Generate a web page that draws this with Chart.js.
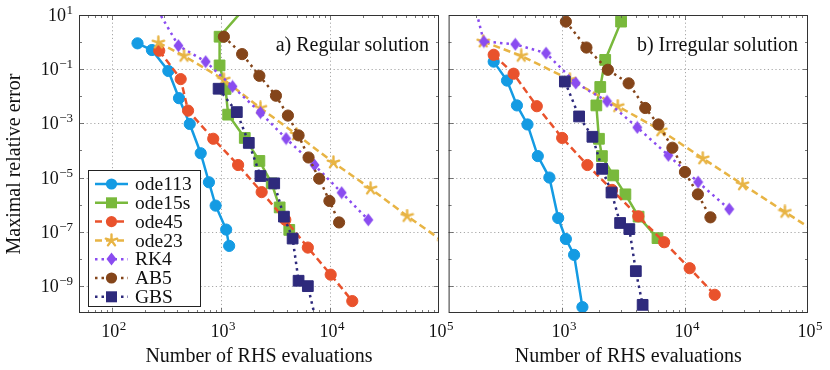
<!DOCTYPE html>
<html>
<head>
<meta charset="utf-8">
<script src="https://cdn.jsdelivr.net/npm/chart.js@4.4.1/dist/chart.umd.min.js"></script>
<style>
  html, body { margin: 0; padding: 0; background: #fff; }
  #wrap { position: relative; width: 830px; height: 370px; overflow: hidden; }
  canvas { position: absolute; top: 0; }
  #cL { left: 0; }
  #cR { left: 440px; }
</style>
</head>
<body>
<div id="wrap">
  <canvas id="cL" width="460" height="370"></canvas>
  <canvas id="cR" width="390" height="370"></canvas>
</div>
<script>
// ---- data: a) regular solution (RHS evaluations, max relative error) ----
const regOde113X = [172, 233, 330, 413, 518, 653, 777, 895, 1118, 1191];
const regOde113Y = [0.90, 0.51, 0.086, 8.5e-3, 9.5e-4, 7.9e-5, 6.7e-6, 9.2e-7, 1.2e-7, 3.0e-8];
const regOde15sX = [2400, 973, 973, 1104, 1166, 1656, 2254, 2923, 3459, 4237];
const regOde15sY = [100, 1.58, 0.138, 0.0186, 2.1e-3, 2.9e-4, 4.1e-5, 6.1e-6, 7.9e-7, 1.17e-7];
const regOde45X = [272, 428, 500, 851, 1439, 2365, 3898, 6270, 10160, 16030];
const regOde45Y = [0.48, 0.043, 2.95e-3, 2.7e-4, 2.9e-5, 2.9e-6, 2.75e-7, 2.6e-8, 2.6e-9, 2.75e-10];
const regOde23X = [267, 459, 1065, 2305, 4943, 10760, 23600, 51000, 111000];
const regOde23Y = [0.96, 0.31, 0.041, 3.7e-3, 3.9e-4, 3.6e-5, 3.9e-6, 3.8e-7, 4.2e-8];
const regRk4X = [200, 408, 725, 1279, 2305, 3960, 7210, 12810, 22480];
const regRk4Y = [100, 0.74, 0.19, 0.023, 2.5e-3, 2.75e-4, 2.9e-5, 2.77e-6, 2.75e-7];
const regAb5X = [1065, 1566, 2254, 3198, 4118, 5157, 6366, 7963, 9890, 12130];
const regAb5Y = [1.58, 0.36, 0.057, 0.0105, 1.94e-3, 3.6e-4, 5.5e-5, 9.1e-6, 1.37e-6, 2.2e-7];
const regGbsX = [953, 1400, 1803, 2305, 3083, 3785, 4547, 5157, 6270, 7700];
const regGbsY = [0.019, 2.6e-3, 1.9e-4, 1.14e-5, 6.1e-6, 3.6e-7, 5.6e-8, 1.55e-9, 9.8e-10, 3e-11];

// ---- data: b) irregular solution ----
const irrOde113X = [279, 358, 431, 525, 637, 791, 933, 1077, 1256, 1468];
const irrOde113Y = [0.19, 0.038, 4.6e-3, 9.1e-4, 6.2e-5, 1.0e-5, 3.2e-7, 5.4e-8, 1.4e-8, 1.65e-10];
const irrOde15sX = [3027, 2249, 2050, 1905, 2000, 2114, 2612, 3281, 4199, 5982];
const irrOde15sY = [5.7, 0.22, 0.022, 4.6e-3, 2.7e-4, 6.2e-5, 1.2e-5, 2.4e-6, 3.6e-7, 5.8e-8];
const irrOde45X = [279, 405, 625, 1005, 1611, 2553, 4178, 6776, 10920, 17460];
const irrOde45Y = [0.34, 0.068, 4.3e-3, 2.9e-4, 2.9e-5, 3.5e-6, 3.7e-7, 4.1e-8, 4.5e-9, 4.7e-10];
const irrOde23X = [229, 467, 1160, 2844, 6366, 13960, 29360, 64900, 142000];
const irrOde23Y = [1.05, 0.31, 0.041, 4.3e-3, 5.5e-4, 5.1e-5, 5.6e-6, 5.4e-7, 5.4e-8];
const irrRk4X = [180, 232, 418, 743, 1297, 2327, 4100, 7330, 12790, 22900];
const irrRk4Y = [100, 1.05, 0.83, 0.39, 0.031, 6.5e-3, 7.1e-4, 6.6e-5, 6.8e-6, 6.8e-7];
const irrAb5X = [1077, 1582, 2362, 3486, 4756, 6089, 7906, 10000, 12740, 16110];
const irrAb5Y = [5.7, 0.63, 0.095, 0.030, 3.7e-3, 9.1e-4, 1.26e-4, 1.6e-5, 2.4e-6, 3.4e-7];
const irrGbsX = [1057, 1380, 1770, 2123, 2530, 2972, 3532, 3989, 4529];
const irrGbsY = [0.035, 1.8e-3, 3.2e-4, 2.1e-5, 2.8e-6, 2.1e-7, 1.25e-7, 3.5e-9, 2.0e-10];

const seriesNames = ['ode113', 'ode15s', 'ode45', 'ode23', 'RK4', 'AB5', 'GBS'];
const xTickExps = [2, 3, 4, 5];
const yTickExps = [1, -1, -3, -5, -7, -9];

// ---- styles ----
const colors = ['#149be3', '#79b93c', '#e9522c', '#e8b444', '#8a4cf0', '#84451a', '#2e2a7c'];
const dashes = [[], [], [7, 4], [7, 4], [2.5, 4], [2.5, 4], [2.5, 4]];
const markers = ['circle', 'rect', 'circle', 'star', 'diamond', 'circle', 'rect'];
const SERIF = '"Liberation Serif", "DejaVu Serif", serif';

function starImg(color) {
  const c = document.createElement('canvas');
  c.width = c.height = 15;
  const g = c.getContext('2d');
  g.strokeStyle = color; g.lineWidth = 2.4; g.lineCap = 'round';
  g.beginPath();
  for (let k = 0; k < 5; k++) {
    const a = -Math.PI / 2 + k * 2 * Math.PI / 5;
    g.moveTo(7.5, 7.5);
    g.lineTo(7.5 + 6 * Math.cos(a), 7.5 + 6 * Math.sin(a));
  }
  g.stroke();
  return c;
}
function diamondImg(color) {
  const c = document.createElement('canvas');
  c.width = 11; c.height = 14;
  const g = c.getContext('2d');
  g.fillStyle = color;
  g.beginPath();
  g.moveTo(5.5, 0.5); g.lineTo(10.5, 7); g.lineTo(5.5, 13.5); g.lineTo(0.5, 7); g.closePath();
  g.fill();
  return c;
}

function pointStyleFor(i) {
  if (markers[i] === 'star') return starImg(colors[i]);
  if (markers[i] === 'diamond') return diamondImg(colors[i]);
  return markers[i];
}

function makeDatasets(xs, ys) {
  return xs.map((xArr, i) => ({
    label: seriesNames[i],
    data: xArr.map((v, j) => ({ x: v, y: ys[i][j] })),
    borderColor: colors[i],
    backgroundColor: colors[i],
    borderWidth: 2.5,
    borderDash: dashes[i],
    borderCapStyle: 'butt',
    pointStyle: pointStyleFor(i),
    pointRadius: markers[i] === 'rect' ? 7.6 : 5.6,
    pointBackgroundColor: colors[i],
    pointBorderColor: colors[i],
    pointBorderWidth: 1,
    tension: 0,
    clip: 0,
    order: 10 - i
  }));
}

function supLabel(ctx, exp, x, y, align) {
  const base = '10';
  const ex = String(exp).replace('-', '\u2212');
  ctx.font = '18px ' + SERIF;
  const wb = ctx.measureText(base).width;
  ctx.font = '13px ' + SERIF;
  const we = ctx.measureText(ex).width;
  const total = wb + we + 0.5;
  let sx = align === 'right' ? x - total : x - total / 2;
  ctx.textAlign = 'left';
  ctx.textBaseline = 'alphabetic';
  ctx.font = '18px ' + SERIF;
  ctx.fillText(base, sx, y);
  ctx.font = '13px ' + SERIF;
  ctx.fillText(ex, sx + wb + 0.5, y - 7);
}

function deco(cfg) {
  return {
    id: 'deco',
    beforeDatasetsDraw(chart) {
      const { ctx, chartArea: a, scales: { x, y } } = chart;
      ctx.save();
      ctx.strokeStyle = '#a8a8a8';
      ctx.lineWidth = 1;
      ctx.setLineDash([1.2, 2.6]);
      xTickExps.forEach(e => {
        const v = Math.pow(10, e);
        if (v <= x.min || v >= x.max) return;
        const px = Math.round(x.getPixelForValue(v)) + 0.5;
        ctx.beginPath(); ctx.moveTo(px, a.top); ctx.lineTo(px, a.bottom); ctx.stroke();
      });
      yTickExps.forEach(e => {
        const v = Math.pow(10, e);
        if (v <= y.min || v >= y.max) return;
        const py = Math.round(y.getPixelForValue(v)) + 0.5;
        ctx.beginPath(); ctx.moveTo(a.left, py); ctx.lineTo(a.right, py); ctx.stroke();
      });
      ctx.restore();
    },
    afterDraw(chart) {
      const { ctx, chartArea: a, scales: { x, y } } = chart;
      ctx.save();
      // tick marks, inside, on all four sides
      ctx.strokeStyle = '#555';
      ctx.lineWidth = 0.8;
      for (let e = 1; e <= 4; e++) {
        for (let m = 1; m <= 9; m++) {
          const v = m * Math.pow(10, e);
          if (v <= x.min || v >= x.max) continue;
          const px = Math.round(x.getPixelForValue(v)) + 0.5;
          const len = m === 1 ? 5 : 3;
          ctx.beginPath();
          ctx.moveTo(px, a.bottom); ctx.lineTo(px, a.bottom - len);
          ctx.moveTo(px, a.top); ctx.lineTo(px, a.top + len);
          ctx.stroke();
        }
      }
      for (let e = 0; e >= -9; e--) {
        const v = Math.pow(10, e);
        const py = Math.round(y.getPixelForValue(v)) + 0.5;
        const len = yTickExps.includes(e) ? 5 : 3;
        ctx.beginPath();
        ctx.moveTo(a.left, py); ctx.lineTo(a.left + len, py);
        ctx.moveTo(a.right, py); ctx.lineTo(a.right - len, py);
        ctx.stroke();
      }
      // frame
      ctx.strokeStyle = '#333';
      ctx.lineWidth = 1;
      ctx.strokeRect(a.left + 0.5, a.top + 0.5, a.right - a.left - 1, a.bottom - a.top - 1);

      ctx.fillStyle = '#111';
      // x tick labels
      xTickExps.forEach(e => {
        const v = Math.pow(10, e);
        if (v < x.min || v > x.max) return;
        supLabel(ctx, e, x.getPixelForValue(v) + 2, 337, 'center');
      });
      // y tick labels
      if (cfg.yLabels) {
        yTickExps.forEach(e => {
          supLabel(ctx, e, 73, y.getPixelForValue(Math.pow(10, e)) + 6, 'right');
        });
        ctx.save();
        ctx.translate(15, (a.top + a.bottom) / 2);
        ctx.rotate(-Math.PI / 2);
        ctx.font = '20px ' + SERIF;
        ctx.textAlign = 'center';
        ctx.textBaseline = 'middle';
        ctx.fillText('Maximal relative error', 0, 0);
        ctx.restore();
      }
      // axis title
      ctx.font = '20px ' + SERIF;
      ctx.textAlign = 'center';
      ctx.textBaseline = 'alphabetic';
      ctx.fillText('Number of RHS evaluations', (a.left + a.right) / 2, 362);
      // panel title
      ctx.textAlign = 'right';
      ctx.fillText(cfg.title, a.right - 10, 51);

      if (cfg.legend) drawLegend(chart);
      ctx.restore();
    }
  };
}

function drawLegend(chart) {
  const ctx = chart.ctx;
  const bx = 88.5, by = 170.5, bw = 112, bh = 136;
  ctx.fillStyle = '#fff';
  ctx.fillRect(bx, by, bw, bh);
  ctx.strokeStyle = '#222';
  ctx.lineWidth = 1;
  ctx.setLineDash([]);
  ctx.strokeRect(bx, by, bw, bh);
  chart.data.datasets.forEach((ds, i) => {
    const ry = 184 + i * 18.8;
    ctx.save();
    ctx.strokeStyle = ds.borderColor;
    ctx.lineWidth = ds.borderWidth;
    ctx.lineCap = 'butt';
    ctx.setLineDash(ds.borderDash);
    ctx.beginPath(); ctx.moveTo(95, ry); ctx.lineTo(128, ry); ctx.stroke();
    ctx.setLineDash([]);
    ctx.fillStyle = ds.borderColor;
    const ps = ds.pointStyle;
    if (typeof ps === 'object') {
      ctx.drawImage(ps, Math.round(111.5 - ps.width / 2), Math.round(ry - ps.height / 2));
    } else if (ps === 'rect') {
      ctx.fillRect(106, ry - 5.5, 11, 11);
    } else {
      ctx.beginPath(); ctx.arc(111.5, ry, 5.6, 0, Math.PI * 2); ctx.fill();
    }
    ctx.restore();
    ctx.fillStyle = '#111';
    ctx.font = '19.5px ' + SERIF;
    ctx.textAlign = 'left';
    ctx.textBaseline = 'middle';
    ctx.fillText(ds.label, 135, ry + 1);
  });
}

function buildChart(id, xs, ys, xMin, pad, cfg) {
  return new Chart(document.getElementById(id).getContext('2d'), {
    type: 'line',
    data: { datasets: makeDatasets(xs, ys) },
    options: {
      responsive: false,
      animation: false,
      devicePixelRatio: 1,
      layout: { padding: pad },
      scales: {
        x: { type: 'logarithmic', min: xMin, max: 1e5, display: false },
        y: { type: 'logarithmic', min: 1e-10, max: 10, display: false }
      },
      plugins: { legend: { display: false }, tooltip: { enabled: false } }
    },
    plugins: [deco(cfg)]
  });
}

buildChart('cL',
  [regOde113X, regOde15sX, regOde45X, regOde23X, regRk4X, regAb5X, regGbsX],
  [regOde113Y, regOde15sY, regOde45Y, regOde23Y, regRk4Y, regAb5Y, regGbsY],
  50, { left: 79, right: 21, top: 15, bottom: 57 },
  { title: 'a) Regular solution', yLabels: true, legend: true });

buildChart('cR',
  [irrOde113X, irrOde15sX, irrOde45X, irrOde23X, irrRk4X, irrAb5X, irrGbsX],
  [irrOde113Y, irrOde15sY, irrOde45Y, irrOde23Y, irrRk4Y, irrAb5Y, irrGbsY],
  120, { left: 8, right: 22, top: 15, bottom: 57 },
  { title: 'b) Irregular solution', yLabels: false, legend: false });
</script>
</body>
</html>
